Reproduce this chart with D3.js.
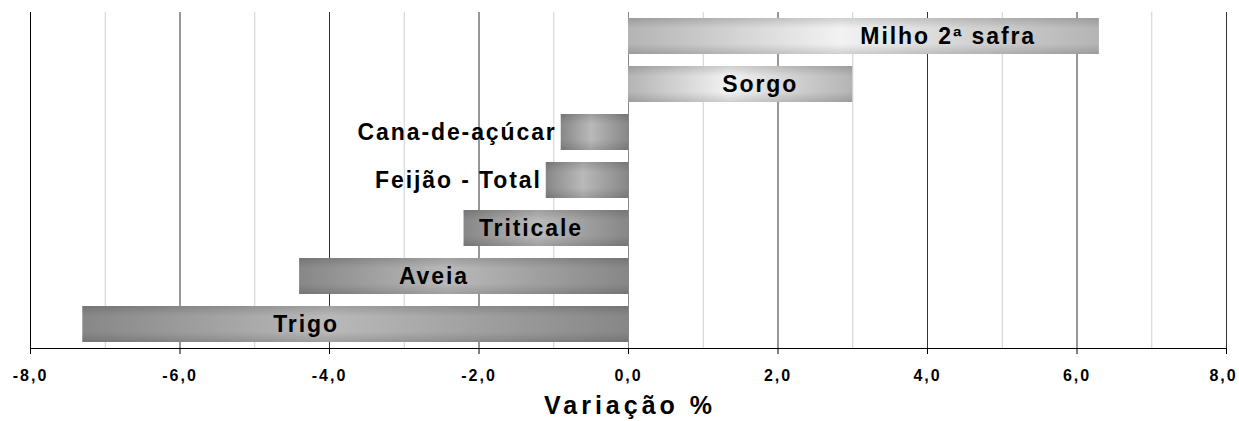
<!DOCTYPE html>
<html>
<head>
<meta charset="utf-8">
<script src="https://cdn.jsdelivr.net/npm/d3@7"></script>
<style>
  body { margin: 0; background: #fff; }
  text { font-family: "Liberation Sans", Arial, sans-serif; font-weight: bold; fill: #000; }
</style>
</head>
<body>
<div id="chart"></div>
<script>
// chart data
const categories = ["Milho 2ª safra", "Sorgo", "Cana-de-açúcar", "Feijão - Total", "Triticale", "Aveia", "Trigo"];
const values = [6.3, 3.0, -0.9, -1.1, -2.2, -4.4, -7.3];
const majorTicks = [-8, -6, -4, -2, 0, 2, 4, 6, 8];
const minorTicks = [-7, -5, -3, -1, 1, 3, 5, 7];
const axisTitle = "Variação %";

const svgWidth = 1239, svgHeight = 421;
const margin = { top: 12, right: 13, bottom: 73, left: 30 };
const width = svgWidth - margin.left - margin.right,
      height = svgHeight - margin.top - margin.bottom;

const svg = d3.select("#chart").append("svg")
    .attr("width", svgWidth)
    .attr("height", svgHeight);

// gradients: light for positive bars, darker for negative ones
const defs = svg.append("defs");
function makeGradient(id, edge, mid) {
    const gr = defs.append("linearGradient").attr("id", id)
        .attr("x1", 0).attr("x2", 1).attr("y1", 0).attr("y2", 0);
    gr.append("stop").attr("offset", "0%").attr("stop-color", edge);
    gr.append("stop").attr("offset", "45%").attr("stop-color", mid);
    gr.append("stop").attr("offset", "100%").attr("stop-color", edge);
}
makeGradient("posGrad", "#b4b4b4", "#f2f2f2");
makeGradient("negGrad", "#878787", "#b9b9b9");

// vertical shading on top of the horizontal one
const vg = defs.append("linearGradient").attr("id", "vShade")
    .attr("x1", 0).attr("x2", 0).attr("y1", 0).attr("y2", 1);
vg.append("stop").attr("offset", "0%").attr("stop-color", "#000").attr("stop-opacity", 0.14);
vg.append("stop").attr("offset", "28%").attr("stop-color", "#000").attr("stop-opacity", 0);
vg.append("stop").attr("offset", "72%").attr("stop-color", "#000").attr("stop-opacity", 0);
vg.append("stop").attr("offset", "100%").attr("stop-color", "#000").attr("stop-opacity", 0.14);

const g = svg.append("g")
    .attr("transform", `translate(${margin.left},${margin.top})`);

const x = d3.scaleLinear().domain([-8, 8]).range([0, width]);
const y = d3.scaleBand().domain(categories).range([0, height]).paddingInner(0.25).paddingOuter(0.125);

// grid lines
g.selectAll(".minor").data(minorTicks).join("line")
    .attr("x1", d => x(d) + 0.5).attr("x2", d => x(d) + 0.5)
    .attr("y1", 0).attr("y2", height)
    .attr("stroke", "#cfcfcf");

g.selectAll(".major").data(majorTicks).join("line")
    .attr("x1", d => x(d) + 0.5).attr("x2", d => x(d) + 0.5)
    .attr("y1", 0).attr("y2", height)
    .attr("stroke", d => d === 0 ? "#888" : (d === -8 ? "#000" : "#333"));

// bars
const bars = g.selectAll(".bar").data(values).join("g");

bars.append("rect")
    .attr("x", d => x(Math.min(0, d)))
    .attr("width", d => Math.abs(x(d) - x(0)))
    .attr("y", (d, i) => y(categories[i]))
    .attr("height", y.bandwidth())
    .attr("fill", d => d >= 0 ? "url(#posGrad)" : "url(#negGrad)");

bars.append("rect")
    .attr("x", d => x(Math.min(0, d)))
    .attr("width", d => Math.abs(x(d) - x(0)))
    .attr("y", (d, i) => y(categories[i]))
    .attr("height", y.bandwidth())
    .attr("fill", "url(#vShade)");

// category labels: inside the bar, or just outside when the bar is short
bars.append("text")
    .attr("x", d => {
        const len = Math.abs(x(d) - x(0));
        if (Math.abs(d) < 1.5) return x(d) - 4;
        if (d > 5) return x(d) - len * 0.32;
        return x(d) - Math.sign(d) * len * 0.41;
    })
    .attr("text-anchor", d => Math.abs(d) < 1.5 ? "end" : "middle")
    .attr("y", (d, i) => y(categories[i]) + y.bandwidth() / 2)
    .attr("dy", "0.36em")
    .attr("font-size", 23)
    .attr("letter-spacing", 1.9)
    .text((d, i) => categories[i]);

// x axis
const xAxis = g.append("g")
    .attr("transform", `translate(0,${height})`)
    .call(d3.axisBottom(x).tickValues(majorTicks).tickSize(6).tickPadding(16)
        .tickFormat(d => d3.format(".1f")(d).replace(".", ",").replace("−", "-")));

xAxis.select(".domain").attr("stroke", "#000").attr("d", `M0.5,0.5H${width + 0.5}`);
xAxis.selectAll(".tick line").attr("stroke", "#000");
xAxis.selectAll(".tick text")
    .attr("font-size", 16)
    .attr("letter-spacing", 2)
    .attr("dx", d => d === 8 ? -3 : 0)
    .attr("font-family", "Liberation Sans, Arial, sans-serif")
    .attr("font-weight", "bold")
    .attr("fill", "#000");

// axis title
svg.append("text")
    .attr("x", margin.left + x(0) + 2)
    .attr("y", 414)
    .attr("text-anchor", "middle")
    .attr("font-size", 25)
    .attr("letter-spacing", 4)
    .text(axisTitle);
</script>
</body>
</html>
